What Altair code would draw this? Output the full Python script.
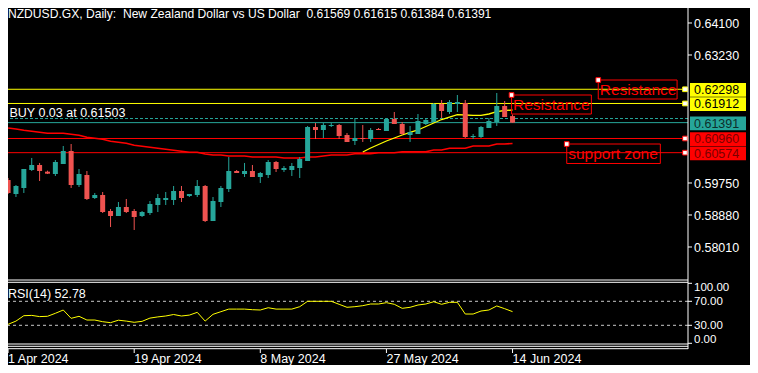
import altair as alt
import pandas as pd

# ---------------- data ----------------
bars = list(range(65))
opens = [0.59831, 0.59451, 0.59614, 0.60103, 0.60239, 0.60058, 0.59994, 0.60266, 0.60620, 0.59695,
         0.59967, 0.59342, 0.59424, 0.58988, 0.58853, 0.59097, 0.58988, 0.58853, 0.58934, 0.59152,
         0.59288, 0.59288, 0.59532, 0.59396, 0.59424, 0.59668, 0.58717, 0.59233, 0.59587, 0.60076,
         0.59994, 0.60076, 0.59913, 0.59967, 0.60321, 0.60103, 0.60103, 0.60158, 0.60348, 0.61272,
         0.61191, 0.61300, 0.61327, 0.61055, 0.60892, 0.60973, 0.60946, 0.61218, 0.61164, 0.61490,
         0.61354, 0.61055, 0.61082, 0.61354, 0.61408, 0.61898, 0.61680, 0.61898, 0.61925, 0.61000,
         0.61000, 0.61245, 0.61408, 0.61843, 0.61569]
highs = [0.59886, 0.59695, 0.60130, 0.60430, 0.60294, 0.60085, 0.60375, 0.60756, 0.60810, 0.60130,
         0.60076, 0.59478, 0.59505, 0.59043, 0.59233, 0.59315, 0.59043, 0.58988, 0.59260, 0.59451,
         0.59505, 0.59668, 0.59668, 0.59451, 0.59831, 0.59695, 0.59369, 0.59668, 0.60457, 0.60103,
         0.60294, 0.60239, 0.60049, 0.60375, 0.60348, 0.60212, 0.60294, 0.60457, 0.61300, 0.61381,
         0.61381, 0.61381, 0.61354, 0.61109, 0.61517, 0.61327, 0.61245, 0.61245, 0.61517, 0.61680,
         0.61408, 0.61300, 0.61626, 0.61517, 0.61925, 0.62006, 0.62006, 0.62142, 0.62006, 0.61082,
         0.61300, 0.61517, 0.62197, 0.61979, 0.61615]
lows = [0.59451, 0.59369, 0.59478, 0.60076, 0.59804, 0.59994, 0.59940, 0.60266, 0.59614, 0.59641,
        0.59288, 0.59315, 0.58934, 0.58553, 0.58853, 0.58934, 0.58472, 0.58825, 0.58880, 0.58961,
        0.59152, 0.59152, 0.59233, 0.59369, 0.59369, 0.58689, 0.58717, 0.59097, 0.59505, 0.60022,
        0.59913, 0.59913, 0.59750, 0.59886, 0.60049, 0.60049, 0.59940, 0.59886, 0.60348, 0.60946,
        0.60973, 0.61272, 0.60946, 0.60865, 0.60783, 0.60865, 0.60865, 0.61191, 0.61164, 0.61354,
        0.61055, 0.60865, 0.61082, 0.61327, 0.61408, 0.61517, 0.61626, 0.61680, 0.60973, 0.60946,
        0.60973, 0.61245, 0.61300, 0.61544, 0.61384]
closes = [0.59478, 0.59668, 0.60130, 0.60239, 0.60076, 0.60003, 0.60321, 0.60620, 0.59695, 0.59994,
          0.59315, 0.59424, 0.58961, 0.58853, 0.59097, 0.58961, 0.58825, 0.58961, 0.59179, 0.59342,
          0.59342, 0.59532, 0.59342, 0.59451, 0.59668, 0.58717, 0.59260, 0.59614, 0.60076, 0.60022,
          0.60076, 0.59913, 0.60022, 0.60321, 0.60130, 0.60158, 0.60212, 0.60402, 0.61272, 0.61191,
          0.61327, 0.61327, 0.61028, 0.60865, 0.60973, 0.60946, 0.61191, 0.61191, 0.61490, 0.61354,
          0.61082, 0.61136, 0.61436, 0.61463, 0.61898, 0.61707, 0.61952, 0.61952, 0.61000, 0.61028,
          0.61272, 0.61436, 0.61843, 0.61544, 0.61391]
ma_red = [0.61245, 0.61218, 0.61183, 0.61155, 0.61128, 0.61101, 0.61101, 0.61101, 0.61074, 0.61047,
          0.60992, 0.60965, 0.60938, 0.60884, 0.60856, 0.60829, 0.60775, 0.60748, 0.60720, 0.60693,
          0.60666, 0.60639, 0.60612, 0.60584, 0.60584, 0.60538, 0.60511, 0.60511, 0.60484, 0.60484,
          0.60484, 0.60457, 0.60457, 0.60457, 0.60457, 0.60430, 0.60430, 0.60430, 0.60457, 0.60457,
          0.60484, 0.60511, 0.60511, 0.60511, 0.60546, 0.60546, 0.60546, 0.60574, 0.60574, 0.60574,
          0.60601, 0.60601, 0.60601, 0.60601, 0.60647, 0.60647, 0.60693, 0.60693, 0.60693, 0.60756,
          0.60756, 0.60756, 0.60810, 0.60810, 0.60824]
ma_yellow_bars = list(range(45, 65))
ma_yellow = [0.60593, 0.60701, 0.60797, 0.60892, 0.60973, 0.61055, 0.61123, 0.61191, 0.61286, 0.61381,
             0.61476, 0.61544, 0.61607, 0.61599, 0.61591, 0.61591, 0.61626, 0.61688, 0.61721, 0.61735]
rsi = [31.6, 37, 46, 46.5, 44.5, 45, 50, 55.5, 41.6, 45,
       38.8, 38.8, 36, 34.4, 38.5, 37, 35, 36.6, 42, 44,
       45.5, 48, 45.5, 47, 51.6, 37, 48.3, 52.7, 57, 57,
       57, 56, 55.5, 59.3, 57, 57, 57, 61, 70, 70,
       70, 70, 65, 60, 61, 62.7, 65.5, 65.5, 67.7, 65,
       58.3, 60, 63.8, 65.5, 69.3, 65, 68.3, 68.3, 48.8, 48.8,
       53.8, 55.5, 62.2, 57.7, 52.78]

tick_bars = [0, 16, 32, 48, 64]
tick_labels = ["1 Apr 2024", "19 Apr 2024", "8 May 2024", "27 May 2024", "14 Jun 2024"]
price_ticks = [0.64100, 0.63230, 0.59750, 0.58880, 0.58010]
rsi_ticks = [0, 30, 70, 100]
rsi_tick_labels = ["0.00", "30.00", "70.00", "100.00"]
rsi_levels = [30, 70]

yellow_levels = [0.62298, 0.61912]
red_levels = [0.60960, 0.60574]
bid_price = 0.61391
buy_price = 0.61503

note_text = ["Resistance", "Resistance", "support zone"]
note_bar = [63.875, 74.875, 70.875]
note_price = [0.62142, 0.62550, 0.60810]
note_w = [10.125, 10.0, 11.875]
note_h = [0.00517, 0.00517, 0.00530]

title_text = "NZDUSD.GX, Daily:\u00a0 New Zealand Dollar vs US Dollar\u00a0 0.61569 0.61615 0.61384 0.61391"
buy_text = "BUY 0.03 at 0.61503"
rsi_text = "RSI(14) 52.78"

# ---------------- styling ----------------
FONT = "Liberation Sans"
FS = 12.5
RFS = 11.5
TEAL = "#26a69a"
RED = "#ef5350"
W, H = 680, 341
xs = alt.Scale(domain=[0.625, 85.625])
ps = alt.Scale(domain=[0.571125, 0.645078], range=[272, 0])
rs = alt.Scale(domain=[0, 100], range=[335.3, 275.3])

candles = pd.DataFrame({"bar": bars, "open": opens, "high": highs, "low": lows, "close": closes})
candles["dir"] = ["up" if c >= o else "down" for o, c in zip(opens, closes)]
col = alt.Color("dir:N", scale=alt.Scale(domain=["up", "down"], range=[TEAL, RED]), legend=None)

wicks = alt.Chart(candles).mark_rule(strokeWidth=1).encode(
    x=alt.X("bar:Q", scale=xs, axis=None),
    y=alt.Y("low:Q", scale=ps, axis=None), y2="high:Q", color=col)
bodies = alt.Chart(candles).mark_bar(size=5).encode(
    x=alt.X("bar:Q", scale=xs, axis=None),
    y=alt.Y("open:Q", scale=ps, axis=None), y2="close:Q", color=col)

red_ma = alt.Chart(pd.DataFrame({"bar": bars, "v": ma_red})).mark_line(
    color="#ff0000", strokeWidth=1.6).encode(
    x=alt.X("bar:Q", scale=xs, axis=None), y=alt.Y("v:Q", scale=ps, axis=None))
yel_ma = alt.Chart(pd.DataFrame({"bar": ma_yellow_bars, "v": ma_yellow})).mark_line(
    color="#ffff00", strokeWidth=1.3).encode(
    x=alt.X("bar:Q", scale=xs, axis=None), y=alt.Y("v:Q", scale=ps, axis=None))


def hlines(vals, color, dash=None):
    kw = {"color": color, "strokeWidth": 1}
    if dash:
        kw["strokeDash"] = dash
    return alt.Chart(pd.DataFrame({"p": vals})).mark_rule(**kw).encode(
        y=alt.Y("p:Q", scale=ps, axis=None))


lvl_y = hlines(yellow_levels, "#ffff00")
lvl_r = hlines(red_levels, "#ff0000")
lvl_bid = hlines([bid_price], TEAL)
lvl_buy = hlines([buy_price], TEAL, [3, 2])

ends = pd.DataFrame({"p": yellow_levels + red_levels,
                     "c": ["#ffff00"] * 2 + ["#ff0000"] * 2})
end_sq = alt.Chart(ends).mark_square(size=22, fill="white", strokeWidth=1, opacity=1).encode(
    x=alt.value(677), y=alt.Y("p:Q", scale=ps, axis=None),
    stroke=alt.Stroke("c:N", scale=None))

buy_lbl = alt.Chart(pd.DataFrame({"p": [buy_price], "t": [buy_text]})).mark_text(
    align="left", baseline="alphabetic", font=FONT, fontSize=FS, color="white", dy=-2).encode(
    x=alt.value(1.5), y=alt.Y("p:Q", scale=ps, axis=None), text="t:N")

notes = pd.DataFrame({"t": note_text, "x0": note_bar, "p0": note_price})
notes["x1"] = [a + b for a, b in zip(note_bar, note_w)]
notes["p1"] = [a - b for a, b in zip(note_price, note_h)]
note_box = alt.Chart(notes).mark_rect(fillOpacity=0, stroke="#ff0000", strokeWidth=1).encode(
    x=alt.X("x0:Q", scale=xs, axis=None), x2="x1:Q",
    y=alt.Y("p0:Q", scale=ps, axis=None), y2="p1:Q")
note_lbl = alt.Chart(notes).mark_text(align="left", baseline="alphabetic", font=FONT,
                                      fontSize=15.5, color="#ff0000", dx=1.5, dy=15).encode(
    x=alt.X("x0:Q", scale=xs, axis=None), y=alt.Y("p0:Q", scale=ps, axis=None), text="t:N")
note_sq = alt.Chart(notes).mark_square(size=22, fill="white", stroke="#ff0000", strokeWidth=1,
                                       opacity=1).encode(
    x=alt.X("x0:Q", scale=xs, axis=None), y=alt.Y("p0:Q", scale=ps, axis=None))

# price scale labels (right side)
pt = pd.DataFrame({"p": price_ticks})
pt["t"] = [f"{v:.5f}" for v in price_ticks]
p_tick = alt.Chart(pt).mark_rule(color="white", strokeWidth=1).encode(
    x=alt.value(680), x2=alt.value(684), y=alt.Y("p:Q", scale=ps, axis=None))
p_lbl = alt.Chart(pt).mark_text(align="left", baseline="middle", font=FONT, fontSize=FS,
                                color="white", dy=1).encode(
    x=alt.value(686), y=alt.Y("p:Q", scale=ps, axis=None), text="t:N")

tags = pd.DataFrame({
    "p": yellow_levels + [bid_price] + red_levels,
    "bg": ["#ffff00", "#ffff00", TEAL, "#ff0000", "#ff0000"],
    "fg": ["#000000", "#000000", "#0d2e2b", "#7a0000", "#7a0000"],
})
tags["t"] = [f"{v:.5f}" for v in tags["p"]]
tags["top"] = tags["p"] + 0.00170
tags["bot"] = tags["p"] - 0.00204
tag_box = alt.Chart(tags).mark_rect().encode(
    x=alt.value(682), x2=alt.value(738),
    y=alt.Y("top:Q", scale=ps, axis=None), y2="bot:Q",
    fill=alt.Fill("bg:N", scale=None))
tag_txt = alt.Chart(tags).mark_text(align="left", baseline="middle", font=FONT, fontSize=FS,
                                    dy=1).encode(
    x=alt.value(686), y=alt.Y("p:Q", scale=ps, axis=None), text="t:N",
    color=alt.Color("fg:N", scale=None))

title = alt.Chart(pd.DataFrame({"t": [title_text]})).mark_text(
    align="left", baseline="alphabetic", font=FONT, fontSize=12.1, color="white").encode(
    x=alt.value(0), y=alt.value(10), text="t:N")

# time scale (bottom)
tt = pd.DataFrame({"bar": tick_bars, "t": tick_labels})
t_tick = alt.Chart(tt).mark_rule(color="white", strokeWidth=1).encode(
    x=alt.X("bar:Q", scale=xs, axis=None), y=alt.value(341), y2=alt.value(345))
t_lbl = alt.Chart(tt).mark_text(align="left", baseline="alphabetic", font=FONT, fontSize=FS,
                                color="white").encode(
    x=alt.X("bar:Q", scale=xs, axis=None), y=alt.value(355), text="t:N")

price_group = alt.layer(lvl_y, lvl_r, lvl_buy, lvl_bid, red_ma, yel_ma, wicks, bodies,
                        end_sq, buy_lbl, note_box, note_lbl, note_sq, p_tick, p_lbl,
                        tag_box, tag_txt, title, t_tick, t_lbl)

# ---------------- RSI panel ----------------
rsi_df = pd.DataFrame({"bar": bars, "rsi": rsi})
rsi_line = alt.Chart(rsi_df).mark_line(color="#ffff00", strokeWidth=1).encode(
    x=alt.X("bar:Q", scale=xs, axis=None), y=alt.Y("rsi:Q", scale=rs, axis=None))
rsi_lv = alt.Chart(pd.DataFrame({"v": rsi_levels})).mark_rule(
    color="#c8c8c8", strokeDash=[3, 3], strokeWidth=1).encode(
    y=alt.Y("v:Q", scale=rs, axis=None))
rsi_lbl = alt.Chart(pd.DataFrame({"t": [rsi_text]})).mark_text(
    align="left", baseline="alphabetic", font=FONT, fontSize=FS, color="white").encode(
    x=alt.value(0), y=alt.value(289.7), text="t:N")

rt = pd.DataFrame({"v": rsi_ticks, "t": rsi_tick_labels})
r_tick = alt.Chart(rt).mark_rule(color="white", strokeWidth=1).encode(
    x=alt.value(680), x2=alt.value(684), y=alt.Y("v:Q", scale=rs, axis=None))
r_lbl_mid = alt.Chart(rt[(rt.v > 0) & (rt.v < 100)]).mark_text(
    align="left", baseline="middle", font=FONT, fontSize=RFS, color="white", dy=0.5).encode(
    x=alt.value(686), y=alt.Y("v:Q", scale=rs, axis=None), text="t:N")
r_lbl_top = alt.Chart(rt[rt.v == 100]).mark_text(
    align="left", baseline="top", font=FONT, fontSize=RFS, color="white", dy=-1.3).encode(
    x=alt.value(686), y=alt.Y("v:Q", scale=rs, axis=None), text="t:N")
r_lbl_bot = alt.Chart(rt[rt.v == 0]).mark_text(
    align="left", baseline="alphabetic", font=FONT, fontSize=RFS, color="white", dy=-0.3).encode(
    x=alt.value(686), y=alt.Y("v:Q", scale=rs, axis=None), text="t:N")

one = pd.DataFrame({"k": [0]})
frame_layers = [
    alt.Chart(one).mark_rule(color="white", strokeWidth=1).encode(
        x=alt.value(0), x2=alt.value(W), y=alt.value(fy))
    for fy in [272, 274.3, 336, 338.3, 340.7]
]
frame_layers.append(alt.Chart(one).mark_rule(color="white", strokeWidth=1).encode(
    x=alt.value(W), y=alt.value(0), y2=alt.value(H)))

rsi_group = alt.layer(rsi_lv, rsi_line, rsi_lbl, r_tick, r_lbl_mid, r_lbl_top, r_lbl_bot,
                      *frame_layers)

chart = alt.layer(price_group, rsi_group).resolve_scale(y="independent").properties(
    width=W, height=H,
    autosize=alt.AutoSizeParams(type="none"),
    padding={"left": 0, "top": 0, "right": 62, "bottom": 16},
    background="#000000",
).configure_view(strokeWidth=0)

chart.save("out.html", embed_options={"renderer": "svg", "actions": False})
